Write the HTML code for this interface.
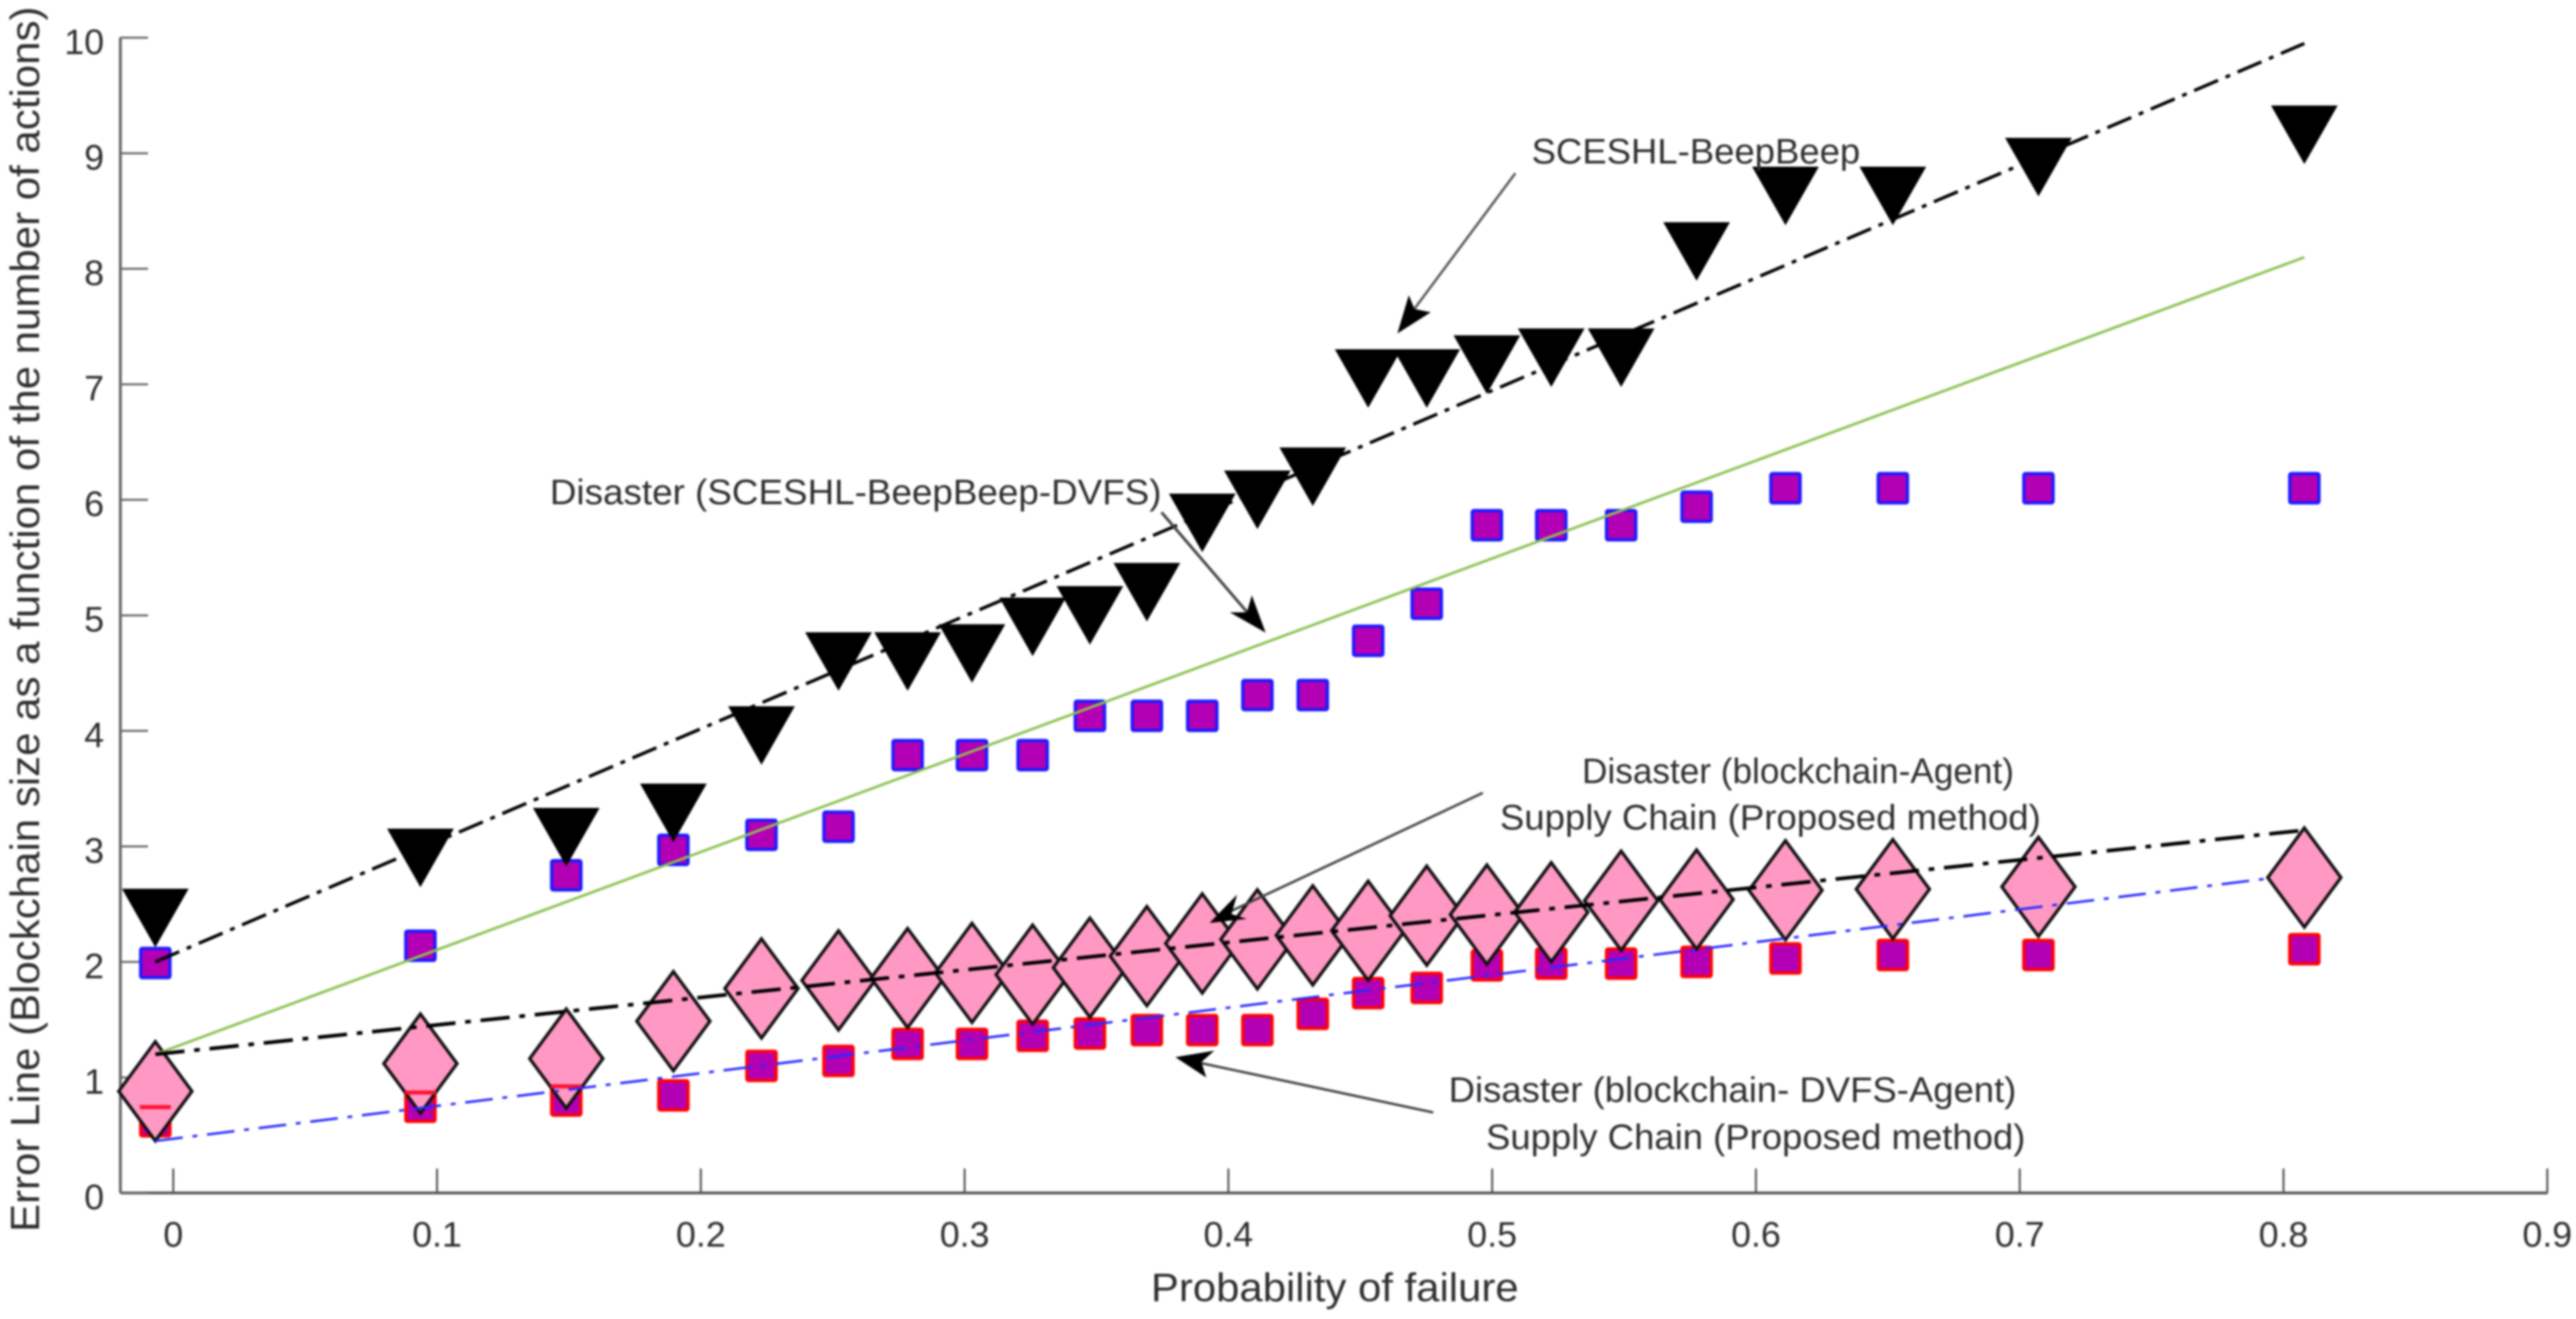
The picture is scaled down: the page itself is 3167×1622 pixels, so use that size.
<!DOCTYPE html>
<html lang="en">
<head>
<meta charset="utf-8">
<title>Error line versus probability of failure</title>
<style>
html,body{margin:0;padding:0;background:#fff;}
body{width:3167px;height:1622px;overflow:hidden;}
svg{display:block;filter:blur(1.2px);}
text{font-family:"Liberation Sans",sans-serif;fill:#2e2e2e;}
</style>
</head>
<body>
<svg id="chart" xmlns="http://www.w3.org/2000/svg" width="3167" height="1622" viewBox="0 0 3167 1622">
  <rect x="0" y="0" width="3167" height="1622" fill="#ffffff"/>
  <g id="axes"></g>
  <g id="marks"></g>
  <text x="1415" y="1600" font-size="49" textLength="452" lengthAdjust="spacingAndGlyphs">Probability of failure</text>
  <text transform="translate(48,1515) rotate(-90)" font-size="50" textLength="1507" lengthAdjust="spacingAndGlyphs">Error Line (Blockchain size as a function of the number of actions)</text>

  <g font-size="44">
    <text x="1883" y="201" textLength="404" lengthAdjust="spacingAndGlyphs">SCESHL-BeepBeep</text>
    <text x="676" y="620" textLength="752" lengthAdjust="spacingAndGlyphs">Disaster (SCESHL-BeepBeep-DVFS)</text>
    <text x="1945" y="963" textLength="531" lengthAdjust="spacingAndGlyphs">Disaster (blockchain-Agent)</text>
    <text x="1844" y="1020" textLength="665" lengthAdjust="spacingAndGlyphs">Supply Chain (Proposed method)</text>
    <text x="1781" y="1355" textLength="698" lengthAdjust="spacingAndGlyphs">Disaster (blockchain- DVFS-Agent)</text>
    <text x="1827" y="1413" textLength="663" lengthAdjust="spacingAndGlyphs">Supply Chain (Proposed method)</text>

    <g>
      <line x1="1863" y1="213" x2="1738" y2="381" stroke="#555" stroke-width="3"/>
      <polygon points="1718,410 1732,363 1739,380 1759,384" fill="#000"/>
    </g>
    <g>
      <line x1="1428" y1="630" x2="1536" y2="756" stroke="#444" stroke-width="3.5"/>
      <polygon points="1556,778 1539,732 1533,753 1512,753" fill="#000"/>
    </g>
    <g>
      <line x1="1823" y1="975" x2="1510" y2="1122" stroke="#444" stroke-width="3"/>
      <polygon points="1487,1135 1521,1100 1514,1124 1533,1130" fill="#000"/>
    </g>
    <g>
      <line x1="1762" y1="1368" x2="1475" y2="1307" stroke="#444" stroke-width="3"/>
      <polygon points="1445,1300 1493,1292 1477,1306 1483,1325" fill="#000"/>
    </g>
  </g>
</svg>
<script>
// Chart data
const failureProbability = [-0.0068,0.0937,0.149,0.1896,0.223,0.2522,0.2784,0.3028,0.3258,0.3475,0.3691,0.3901,0.411,0.432,0.453,0.4752,0.498,0.5224,0.5489,0.5775,0.6112,0.6519,0.7071,0.8079];
const beepBeepValues = [2.38,2.9,3.08,3.29,3.96,4.6,4.6,4.67,4.9,5.0,5.2,5.8,6.0,6.2,7.05,7.05,7.17,7.23,7.23,8.15,8.63,8.63,8.88,9.16];
const beepBeepDvfsValues = [1.99,2.14,2.75,2.97,3.1,3.17,3.79,3.79,3.79,4.13,4.13,4.13,4.31,4.31,4.78,5.1,5.78,5.78,5.78,5.94,6.1,6.1,6.1,6.1];
const blockchainAgentValues = [0.88,1.12,1.163,1.487,1.77,1.84,1.86,1.905,1.89,1.95,2.05,2.16,2.195,2.23,2.27,2.4,2.41,2.43,2.53,2.54,2.62,2.63,2.65,2.73];
const blockchainDvfsAgentValues = [0.62,0.746,0.8,0.845,1.1,1.143,1.29,1.29,1.36,1.38,1.41,1.41,1.41,1.55,1.73,1.775,1.97,1.985,1.985,2.0,2.03,2.06,2.06,2.11];
const fitTopX = [-0.0068,0.8079];
const fitTopY = [2.0,9.95];
const fitGreenX = [-0.0068,0.8079];
const fitGreenY = [1.2,8.1];
const fitAgentX = [-0.0068,0.8079];
const fitAgentY = [1.2,3.14];
const fitDvfsAgentX = [-0.0068,0.7934];
const fitDvfsAgentY = [0.45,2.72];
const xTickValues = [0,0.1,0.2,0.3,0.4,0.5,0.6,0.7,0.8,0.9];
const xTickLabels = ['0','0.1','0.2','0.3','0.4','0.5','0.6','0.7','0.8','0.9'];
const yTickValues = [0,1,2,3,4,5,6,7,8,9,10];
const yTickLabels = ['0','1','2','3','4','5','6','7','8','9','10'];

const SVGNS = 'http://www.w3.org/2000/svg';
const X0 = 213, XSCALE = 3243, Y0 = 1467, YSCALE = 142.06;
const AXIS_LEFT = 148, AXIS_RIGHT = 3132, AXIS_TOP = 46;
function xPos(v){ return X0 + XSCALE * v; }
function yPos(v){ return Y0 - YSCALE * v; }
function make(tag, attrs, parent){
  const el = document.createElementNS(SVGNS, tag);
  for (const k in attrs) el.setAttribute(k, attrs[k]);
  parent.appendChild(el);
  return el;
}
const axes = document.getElementById('axes');
const marks = document.getElementById('marks');

// axes
const yAxisLine = make('line', {x1:AXIS_LEFT,y1:AXIS_TOP,x2:AXIS_LEFT,y2:Y0,stroke:'#666',"stroke-width":3.5}, axes);


const xAxisLine = make('line', {x1:AXIS_LEFT,y1:Y0,x2:AXIS_RIGHT,y2:Y0,stroke:'#555',"stroke-width":3.5}, axes);



xTickValues.forEach(function(v, i){
  const t = make('line', {x1:xPos(v),y1:Y0,x2:xPos(v),y2:Y0-30,stroke:'#555',"stroke-width":2.5}, axes);
  
  
  const l = make('text', {x:xPos(v),y:Y0+66,"font-size":44,"text-anchor":'middle'}, axes);
  l.textContent = xTickLabels[i];
  
  
});
yTickValues.forEach(function(v, i){
  const t = make('line', {x1:AXIS_LEFT,y1:yPos(v),x2:AXIS_LEFT+34,y2:yPos(v),stroke:'#666',"stroke-width":2.5}, axes);
  
  
  const l = make('text', {x:128,y:yPos(v)+20,"font-size":44,"text-anchor":'end'}, axes);
  l.textContent = yTickLabels[i];
  
  
});

// squares
function drawSquares(values, edge, name){
  values.forEach(function(v, i){
    const cx = xPos(failureProbability[i]), cy = yPos(v);
    const r = make('rect', {x:cx-18,y:cy-18,width:36,height:36,rx:2,fill:'#b400b4',stroke:edge,"stroke-width":4}, marks);
    
    
  });
}
drawSquares(blockchainDvfsAgentValues, '#ff0000', 'point-blockchain-dvfs-agent');
drawSquares(beepBeepDvfsValues, '#1a1aff', 'point-beepbeep-dvfs');

// diamonds
blockchainAgentValues.forEach(function(v, i){
  const cx = xPos(failureProbability[i]), cy = yPos(v);
  const d = make('polygon', {points:[cx,cy-61,cx+45,cy,cx,cy+61,cx-45,cy].join(' '),fill:'#ff99c4',stroke:'#111',"stroke-width":4,"stroke-linejoin":'miter'}, marks);
  
  
});

// top edge of the first red squares shows through the diamonds
blockchainDvfsAgentValues.slice(0, 3).forEach(function(v, i){
  const cx = xPos(failureProbability[i]), cy = yPos(v);
  const e = make('rect', {x:cx-19,y:cy-20,width:38,height:5,fill:'#ff1030'}, marks);
  
  
});

// triangles
beepBeepValues.forEach(function(v, i){
  const cx = xPos(failureProbability[i]), cy = yPos(v);
  const t = make('polygon', {points:[cx-41,cy-36,cx+41,cy-36,cx,cy+36].join(' '),fill:'#000'}, marks);
  
  
});

// fit lines
function drawLine(xs, ys, color, width, dash, name){
  const pts = xs.map(function(x, i){ return xPos(x) + ',' + yPos(ys[i]); }).join(' ');
  const attrs = {points:pts,fill:'none',stroke:color,"stroke-width":width};
  if (dash) attrs['stroke-dasharray'] = dash;
  const p = make('polyline', attrs, marks);
  
  
}
drawLine(fitGreenX, fitGreenY, '#8cc152', 3.2, null, 'fit-line-green');
drawLine(fitTopX, fitTopY, '#000', 4, '32 10 6 10', 'fit-line-beepbeep');
drawLine(fitAgentX, fitAgentY, '#000', 4.5, '36 12 7 12', 'fit-line-blockchain-agent');
drawLine(fitDvfsAgentX, fitDvfsAgentY, '#2a2aff', 3, '34 12 6 12', 'fit-line-blockchain-dvfs-agent');
</script>
</body>
</html>
